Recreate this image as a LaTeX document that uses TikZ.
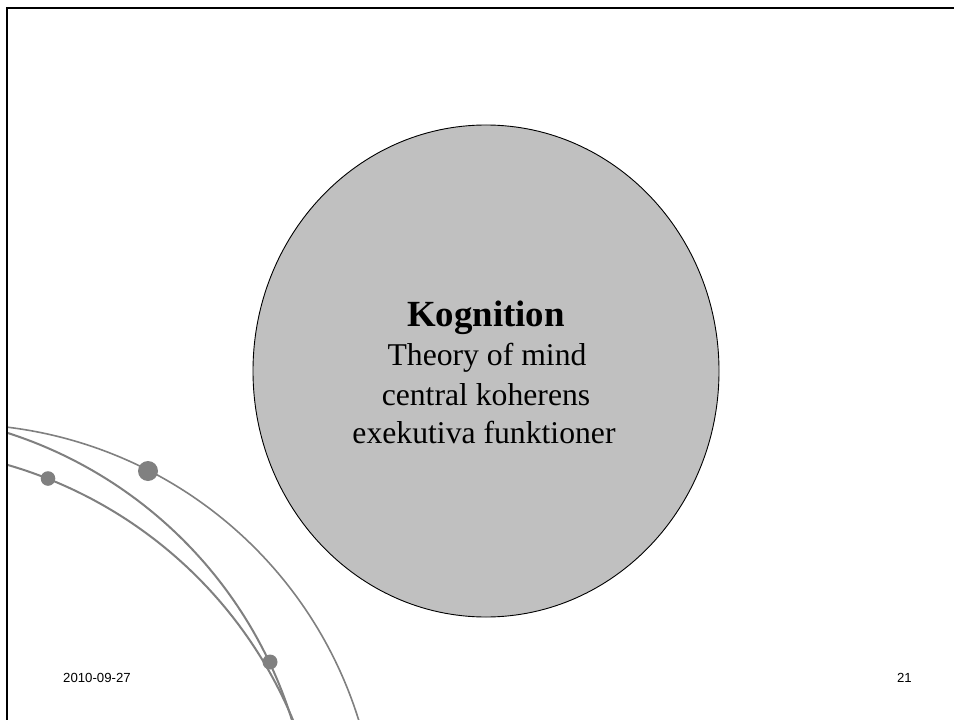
\documentclass[tikz,border=0pt]{standalone}
\usepackage{fontspec}
\setmainfont{Liberation Serif}
\newfontfamily\footfont{Liberation Sans}
\usetikzlibrary{shapes.geometric}
\definecolor{arcgray}{RGB}{128,128,128}
\definecolor{bubblefill}{RGB}{192,192,192}
\tikzset{
  arcline/.style={draw=arcgray, line width=2bp},
  thinarc/.style={draw=arcgray, line width=1.6bp},
  dotmark/.style={circle, fill=arcgray, draw=none, inner sep=0pt},
  bubble/.style={ellipse, fill=bubblefill, draw=black, line width=0.9bp, inner sep=0pt},
  titletext/.style={anchor=base, inner sep=0pt, font=\bfseries\fontsize{37}{44}\selectfont},
  bodytext/.style={anchor=base, inner sep=0pt, font=\fontsize{31.8}{38}\selectfont},
  foottext/.style={inner sep=0pt, font=\footfont\fontsize{13.25}{16}\selectfont},
  frameline/.style={draw=black, line width=2.6bp, line join=miter}
}
\begin{document}
\begin{tikzpicture}[x=1bp,y=-1bp]
\useasboundingbox (0,0) rectangle (954,720);
\fill[white] (0,0) rectangle (954,720);

% decorative arcs
\begin{scope}
\clip (8,0) rectangle (954,720);
\draw[thinarc] plot[domain=-86:-10, samples=150, variable=\t] ({-43.3+421*cos(\t)},{845.1+421*sin(\t)});
\draw[arcline] plot[domain=-76:-10, samples=150, variable=\t] ({-126.1+437.7*cos(\t)},{849.7+437.7*sin(\t)});
\draw[arcline] plot[domain=-78:-10, samples=150, variable=\t] ({-115.6+442.5*cos(\t)},{889.9+442.5*sin(\t)});
\end{scope}
\node[dotmark, minimum size=20bp] (bigdot) at (148,471) {};
\node[dotmark, minimum size=14.6bp] (leftdot) at (48,478.5) {};
\node[dotmark, minimum size=15bp] (lowdot) at (270,662) {};

% main bubble
\node[bubble, minimum width=466bp, minimum height=492bp] (kog) at (486,371) {};
\node[titletext] (t1) at (486,326.7) {Kognition};
\node[bodytext] (t2) at (487,365) {Theory of mind};
\node[bodytext] (t3) at (486,405) {central koherens};
\node[bodytext] (t4) at (484,443.3) {exekutiva funktioner};

% footer
\node[foottext, anchor=base west] (date) at (63,682) {2010-09-27};
\node[foottext, anchor=base east] (page) at (912,682) {21};

% frame
\draw[frameline] (7,720) -- (7,8) -- (954,8);
\end{tikzpicture}
\end{document}
